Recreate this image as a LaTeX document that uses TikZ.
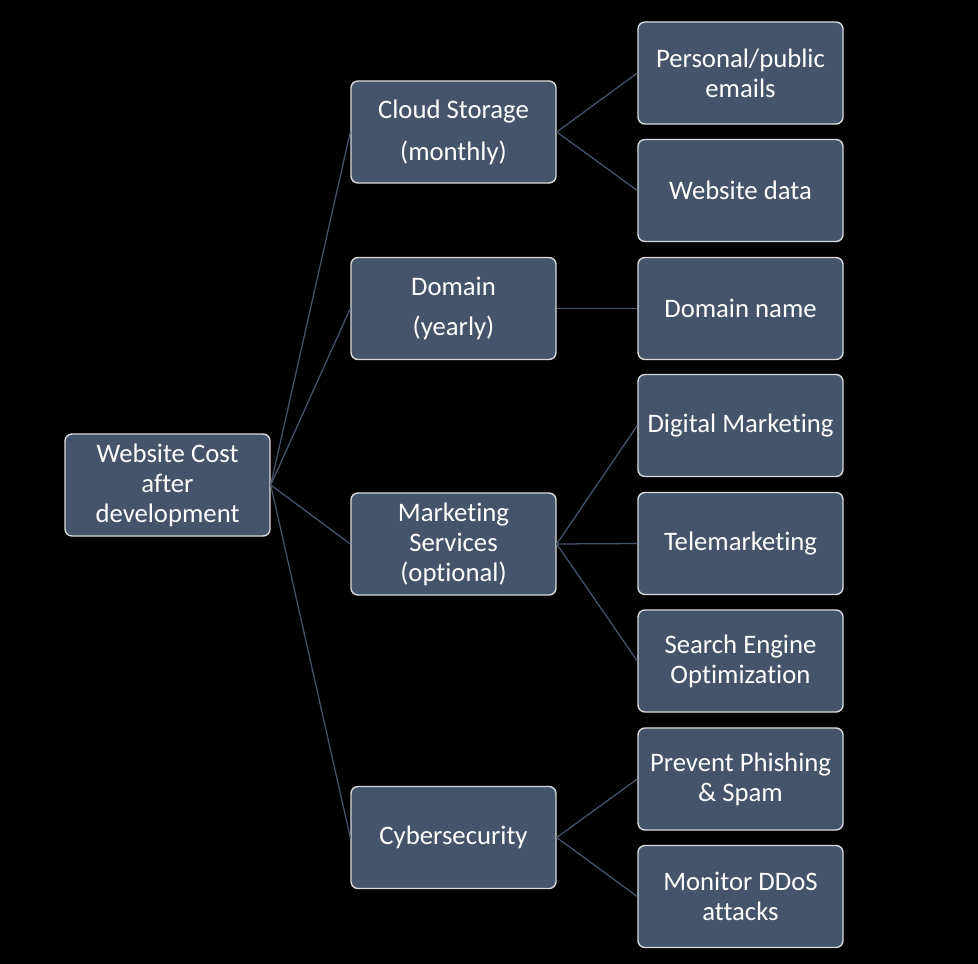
\documentclass[tikz,border=0pt]{standalone}
\usepackage{fontspec}
\setmainfont[Ligatures=NoCommon]{Carlito}
\definecolor{boxfill}{HTML}{44546A}
\definecolor{boxline}{HTML}{DADADA}
\begin{document}
\begin{tikzpicture}[x=0.025cm, y=-0.025cm,
    box/.style={draw=boxline, line width=1pt, fill=boxfill, rounded corners=5pt,
        minimum width=5.125cm, minimum height=2.55cm, inner sep=2pt,
        align=center, text=white, font=\fontsize{19}{21.3}\selectfont},
    link/.style={draw=boxfill, line width=0.9pt}]
        % background
        \fill[black] (0, 0) rectangle (978, 964);

        % root
        \node[box] (root) at (167.5, 485) {Website Cost\\after\\development};

        % second level
        \node[box] (cloud) at (453.5, 132) {Cloud Storage\\[8.5pt](monthly)};
        \node[box] (domain) at (453.5, 308.5) {Domain\\[7pt](yearly)};
        \node[box] (market) at (453.5, 544) {Marketing\\Services\\(optional)};
        \node[box] (cyber) at (453.5, 837.5) {Cybersecurity};

        % third level
        \node[box] (emails) at (740.5, 73) {Personal/public\\emails};
        \node[box] (webdata) at (740.5, 190.5) {Website data};
        \node[box] (dname) at (740.5, 308.5) {Domain name};
        \node[box] (digital) at (740.5, 425.5) {Digital Marketing};
        \node[box] (tele) at (740.5, 543.5) {Telemarketing};
        \node[box] (seo) at (740.5, 661) {Search Engine\\Optimization};
        \node[box] (phish) at (740.5, 779) {Prevent Phishing\\\& Spam};
        \node[box] (ddos) at (740.5, 896.5) {Monitor DDoS\\attacks};

        % connectors
        \foreach \n in {cloud, domain, market, cyber}
            \draw[link] (root.east) -- (\n.west);
        \foreach \n in {emails, webdata}
            \draw[link] (cloud.east) -- (\n.west);
        \draw[link] (domain.east) -- (dname.west);
        \foreach \n in {digital, tele, seo}
            \draw[link] (market.east) -- (\n.west);
        \foreach \n in {phish, ddos}
            \draw[link] (cyber.east) -- (\n.west);
\end{tikzpicture}
\end{document}
